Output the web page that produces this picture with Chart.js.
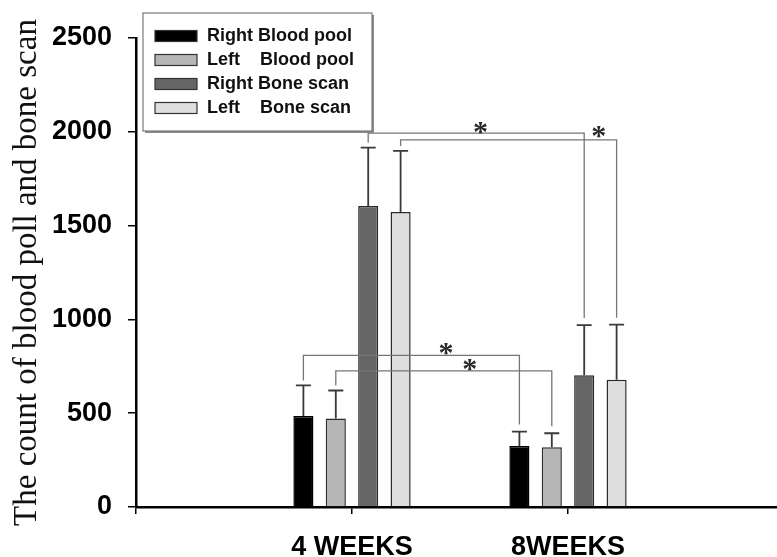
<!DOCTYPE html>
<html><head><meta charset="utf-8">
<script src="https://cdn.jsdelivr.net/npm/chart.js@4/dist/chart.umd.min.js"></script>
<style>
html,body{margin:0;padding:0;background:#fff;overflow:hidden;}
#wrap{width:777px;height:557px;overflow:hidden;position:relative;background:#fff;}
canvas{display:block;}
</style></head><body>
<div id="wrap"><canvas id="c" width="788" height="557" style="width:788px;height:557px"></canvas></div>
<script>
// ---- data ----
const categories = ['', '4 WEEKS', '8WEEKS', ''];
const seriesNames = ['Right Blood pool', 'Left    Blood pool', 'Right Bone scan', 'Left    Bone scan'];
const rightBloodPool = [null, 485, 325, null];
const leftBloodPool  = [null, 472, 318, null];
const rightBoneScan  = [null, 1605, 702, null];
const leftBoneScan   = [null, 1572, 678, null];
const rightBloodPoolSD = [null, 163, 77, null];
const leftBloodPoolSD  = [null, 149, 75, null];
const rightBoneScanSD  = [null, 311, 268, null];
const leftBoneScanSD   = [null, 326, 294, null];
const yTicks = [0, 500, 1000, 1500, 2000, 2500];
const yTitle = 'The count of blood poll and bone scan';
// significance comparisons (4 WEEKS vs 8WEEKS for one series), bracket height in data units
const significance = [
  {series: 2, level: 1993, mark: '*'},
  {series: 3, level: 1957, mark: '*'},
  {series: 0, level: 808,  mark: '*'},
  {series: 1, level: 726,  mark: '*'}
];

// ---- styles ----
const values = [rightBloodPool, leftBloodPool, rightBoneScan, leftBoneScan];
const errors = [rightBloodPoolSD, leftBloodPoolSD, rightBoneScanSD, leftBoneScanSD];
const fills = ['#000000', '#b6b6b6', '#666666', '#dedede'];
const borders = ['#000000', '#2a2a2a', '#2a2a2a', '#2a2a2a'];
const starStyle = [ {at: 0.52, rise: 6}, {at: 0.917, rise: 8.5}, {at: 0.66, rise: 7}, {at: 0.62, rise: 6.5} ];

const overlay = {
  id: 'overlay',
  afterDatasetsDraw(chart) {
    const ctx = chart.ctx, ys = chart.scales.y;
    ctx.save();
    chart.data.datasets.forEach((ds, i) => {
      const meta = chart.getDatasetMeta(i);
      meta.data.forEach((bar, j) => {
        const v = ds.data[j], e = errors[i][j];
        if (v == null || e == null) return;
        const yt = ys.getPixelForValue(v + e);
        ctx.strokeStyle = '#3a3a3a'; ctx.lineWidth = 1.8;
        ctx.beginPath();
        ctx.moveTo(bar.x, bar.y); ctx.lineTo(bar.x, yt);
        ctx.moveTo(bar.x - 7.5, yt); ctx.lineTo(bar.x + 7.5, yt);
        ctx.stroke();
      });
    });
    significance.forEach((s, k) => {
      const i = s.series, meta = chart.getDatasetMeta(i);
      const x1 = meta.data[1].x, x2 = meta.data[2].x;
      const yl = ys.getPixelForValue(s.level);
      const y1 = ys.getPixelForValue(values[i][1] + errors[i][1]) - 5;
      const y2 = ys.getPixelForValue(values[i][2] + errors[i][2]) - 7;
      ctx.strokeStyle = '#767676'; ctx.lineWidth = 1.3;
      ctx.beginPath();
      ctx.moveTo(x1, y1); ctx.lineTo(x1, yl); ctx.lineTo(x2, yl); ctx.lineTo(x2, y2);
      ctx.stroke();
      const st = starStyle[k];
      ctx.fillStyle = '#2a2a2a';
      ctx.font = 'bold 30px "Liberation Serif", "Times New Roman", serif';
      ctx.textAlign = 'center'; ctx.textBaseline = 'alphabetic';
      ctx.fillText(s.mark, x1 + (x2 - x1) * st.at, yl - st.rise + 14);
    });
    ctx.restore();
  },
  afterDraw(chart) {
    const ctx = chart.ctx;
    ctx.save();
    const bx = 143, by = 13, bw = 229, bh = 118;
    ctx.fillStyle = '#8a8a8a';
    ctx.fillRect(bx + 2, by + 2, bw, bh);
    ctx.fillStyle = '#fff';
    ctx.fillRect(bx, by, bw, bh);
    ctx.strokeStyle = '#7a7a7a'; ctx.lineWidth = 1.2;
    ctx.strokeRect(bx, by, bw, bh);
    const rows = [36, 60, 84, 108];
    chart.data.datasets.forEach((ds, i) => {
      const cy = rows[i];
      ctx.fillStyle = ds.backgroundColor;
      ctx.fillRect(155, cy - 5.5, 42, 11);
      ctx.strokeStyle = '#333'; ctx.lineWidth = 1.2;
      ctx.strokeRect(155, cy - 5.5, 42, 11);
      ctx.fillStyle = '#111';
      ctx.font = 'bold 18px "Liberation Sans", Arial, sans-serif';
      ctx.textAlign = 'left'; ctx.textBaseline = 'middle';
      ctx.fillText(ds.label, 207, cy);
    });
    ctx.restore();
  }
};

const tickFont = {family: '"Liberation Sans", Arial, sans-serif', size: 27, weight: 'bold'};

new Chart(document.getElementById('c'), {
  type: 'bar',
  data: {
    labels: categories,
    datasets: values.map((v, i) => ({
      label: seriesNames[i],
      data: v,
      backgroundColor: fills[i],
      borderColor: borders[i],
      borderWidth: 1.5,
      categoryPercentage: 0.6,
      barPercentage: 0.62
    }))
  },
  options: {
    responsive: false,
    animation: false,
    devicePixelRatio: 1,
    layout: {padding: {top: 38, right: 4, left: 0, bottom: 0}},
    plugins: {legend: {display: false}, tooltip: {enabled: false}},
    scales: {
      x: {
        type: 'category',
        offset: false,
        grid: {display: true, offset: false, drawOnChartArea: false, drawTicks: true, tickLength: 7, color: '#000', lineWidth: 1.5},
        border: {display: true, color: '#000', width: 2.5},
        ticks: {font: Object.assign({}, tickFont, {lineHeight: 2.5}), color: '#000', padding: 0, autoSkip: false, maxRotation: 0},
        afterFit(s) { s.height = 50; }
      },
      y: {
        min: 0, max: 2500,
        afterBuildTicks(s) { s.ticks = yTicks.map(v => ({value: v})); },
        grid: {display: true, drawOnChartArea: false, drawTicks: true, tickLength: 8, color: '#000', lineWidth: 1.5},
        border: {display: true, color: '#000', width: 2.5},
        ticks: {font: tickFont, color: '#000', padding: 16, callback: v => String(v)},
        title: {display: true, text: yTitle, color: '#111',
                font: {family: '"Liberation Serif", "Times New Roman", serif', size: 33, weight: 'normal'},
                padding: {top: 8, bottom: 0}},
        afterFit(s) { s.width = 136; }
      }
    }
  },
  plugins: [overlay]
});
</script>
</body></html>
